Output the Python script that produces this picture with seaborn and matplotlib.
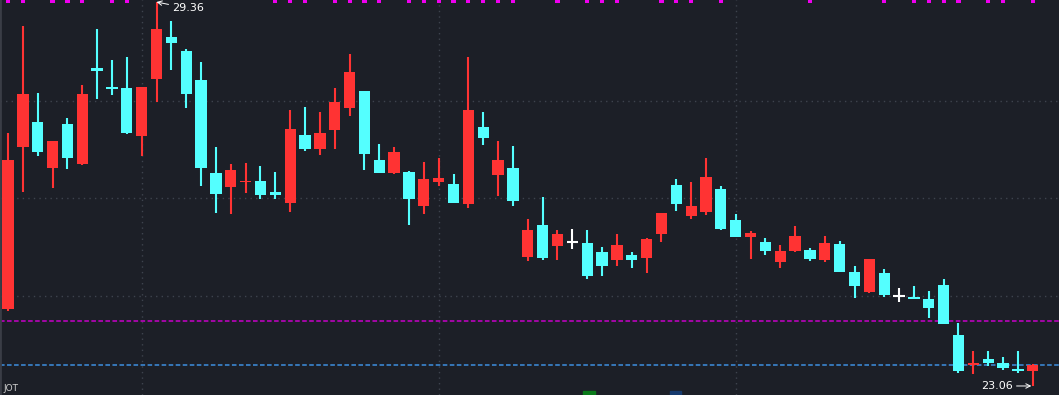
import numpy as np
import pandas as pd
import matplotlib
matplotlib.use("Agg")
import matplotlib.pyplot as plt
import matplotlib.transforms as mtransforms
from matplotlib.patches import Rectangle
import seaborn as sns

# ---------------- data ----------------
opens = [24.32, 26.98, 27.39, 26.64, 27.36, 26.70, 28.28, 27.97, 27.95, 27.16,
         28.10, 28.79, 28.56, 28.08, 26.55, 26.32, 26.40, 26.42, 26.24, 26.06,
         27.18, 26.95, 27.26, 27.62, 27.90, 26.77, 26.55, 26.57, 26.01, 26.41,
         26.37, 26.05, 27.31, 26.52, 26.64, 25.17, 25.70, 25.36, 25.42, 25.41,
         25.26, 25.13, 25.21, 25.16, 25.55, 26.36, 25.85, 25.91, 26.29, 25.78,
         25.50, 25.42, 25.09, 25.27, 25.29, 25.13, 25.39, 24.93, 24.60, 24.91,
         24.54, 24.52, 24.49, 24.72, 23.90, 23.40, 23.50, 23.44, 23.34, 23.31]
highs = [27.21, 28.97, 27.87, 27.08, 27.46, 28.00, 28.92, 28.41, 28.46, 27.97,
         29.36, 29.05, 28.59, 28.38, 26.98, 26.70, 26.72, 26.67, 26.57, 27.59,
         27.64, 27.56, 27.95, 28.51, 27.90, 27.03, 26.98, 26.59, 26.73, 26.80,
         26.54, 28.46, 27.56, 27.08, 27.00, 25.80, 26.16, 25.62, 25.64, 25.62,
         25.34, 25.55, 25.26, 25.49, 25.90, 26.46, 26.41, 26.80, 26.34, 25.88,
         25.60, 25.49, 25.37, 25.69, 25.32, 25.52, 25.44, 25.03, 25.14, 24.98,
         24.67, 24.70, 24.62, 24.82, 24.09, 23.63, 23.63, 23.54, 23.63, 23.42]
lows = [24.29, 26.24, 26.83, 26.31, 26.62, 26.69, 27.77, 27.83, 27.19, 26.83,
        27.72, 28.24, 27.62, 26.34, 25.90, 25.88, 26.23, 26.13, 26.13, 25.91,
        26.92, 26.85, 26.95, 27.49, 26.60, 26.55, 26.54, 25.70, 25.88, 26.34,
        26.06, 25.98, 27.01, 26.18, 26.01, 25.11, 25.13, 25.13, 25.31, 24.82,
        24.86, 25.03, 24.99, 24.91, 25.42, 25.93, 25.80, 25.87, 25.62, 25.50,
        25.14, 25.21, 24.99, 25.26, 25.11, 25.09, 24.93, 24.50, 24.59, 24.52,
        24.44, 24.49, 24.18, 24.08, 23.27, 23.26, 23.39, 23.32, 23.27, 23.06]
closes = [26.77, 27.85, 26.90, 27.08, 26.80, 27.85, 28.23, 27.93, 27.21, 27.97,
          28.92, 28.69, 27.85, 26.64, 26.21, 26.60, 26.42, 26.19, 26.19, 27.28,
          26.95, 27.21, 27.72, 28.21, 26.87, 26.55, 26.90, 26.13, 26.46, 26.47,
          26.06, 27.59, 27.13, 26.77, 26.09, 25.62, 25.16, 25.55, 25.42, 24.86,
          25.03, 25.37, 25.13, 25.47, 25.90, 26.05, 26.01, 26.49, 25.64, 25.50,
          25.57, 25.27, 25.27, 25.52, 25.14, 25.41, 24.93, 24.70, 25.14, 24.55,
          24.54, 24.49, 24.34, 24.08, 23.31, 23.44, 23.44, 23.36, 23.31, 23.40]

signal_days = [0, 1, 3, 4, 5, 7, 8, 18, 19, 20, 22, 23, 24, 25, 27, 28, 29, 30,
               31, 32, 33, 34, 37, 39, 40, 41, 44, 45, 46, 48, 54, 59, 61, 62,
               63, 64, 66, 67, 69]
month_breaks = [9, 29, 49]
grid_levels = [27.74, 26.14, 24.54]
avg_line = 24.12
last_price = 23.40
high_label = "29.36"
low_label = "23.06"
bottom_label = "JOT"

# ---------------- styling ----------------
BG = "#1c1f27"
UP = "#ff3333"
DOWN = "#54ffff"
FLAT = "#ffffff"
GRID = "#3e434e"

sns.set_theme(style="dark", rc={"axes.facecolor": BG, "figure.facecolor": BG})
plt.rcParams["font.family"] = ["DejaVu Sans"]

df = pd.DataFrame({"open": opens, "high": highs, "low": lows, "close": closes})
df["idx"] = np.arange(len(df))
df["color"] = np.where(df["close"] > df["open"], UP,
                       np.where(df["close"] < df["open"], DOWN, FLAT))

fig = plt.figure(figsize=(10.59, 3.95), dpi=100)
ax = fig.add_axes([0, 0, 1, 1])
ax.set_facecolor(BG)
ax.set_xlim(-0.54, 70.77)
ax.set_ylim(22.912, 29.393)

# grid
for g in grid_levels:
    ax.axhline(g, color=GRID, lw=1.0, ls=(0, (1, 3)), zorder=0)
for m in month_breaks:
    ax.axvline(m, color=GRID, lw=1.0, ls=(0, (1, 3)), zorder=0)

# reference lines
ax.axhline(avg_line, color="#c800c8", lw=1.1, ls=(0, (3, 1.6)), zorder=1)
ax.axhline(last_price, color="#3d8fe0", lw=1.1, ls=(0, (3, 1.6)), zorder=1)

# wicks
ax.vlines(df["idx"], df["low"], df["high"], colors=df["color"], lw=1.5, zorder=2)

# bodies
body = df[df["color"] != FLAT]
bottoms = np.minimum(body["open"], body["close"])
heights = np.maximum(np.abs(body["close"] - body["open"]), 0.03)
ax.bar(body["idx"], heights, bottom=bottoms, width=0.76, color=body["color"],
       linewidth=0, zorder=3)

# doji crosses
flat = df[df["color"] == FLAT]
ax.hlines(flat["close"], flat["idx"] - 0.38, flat["idx"] + 0.38,
          colors=FLAT, lw=1.5, zorder=3)

# top signal markers
trans = mtransforms.blended_transform_factory(ax.transData, ax.transAxes)
sig = pd.DataFrame({"idx": signal_days, "pos": 0.998})
sns.scatterplot(data=sig, x="idx", y="pos", marker="s", s=9, color="#ee00ee",
                edgecolor="none", transform=trans, ax=ax, zorder=4, clip_on=False,
                legend=False)

# annotations for extreme prices
hi_i = int(np.argmax(highs))
lo_i = int(np.argmin(lows))
ax.annotate(high_label, xy=(hi_i, highs[hi_i]), xytext=(11, -4.5),
            textcoords="offset points", ha="left", va="center", color="white",
            fontsize=8,
            arrowprops=dict(arrowstyle="->", color="white", lw=0.7,
                            shrinkA=0, shrinkB=0))
ax.annotate(low_label, xy=(lo_i, lows[lo_i]), xytext=(-14, 0),
            textcoords="offset points", ha="right", va="center", color="white",
            fontsize=8,
            arrowprops=dict(arrowstyle="->", color="white", lw=0.7,
                            shrinkA=0, shrinkB=1))

# bottom label (kept fully inside) and icons
ax.text(0.003, 0.004, bottom_label, transform=ax.transAxes, color="#d0d0d0",
        fontsize=6.5, ha="left", va="bottom")
ax.add_patch(Rectangle((0.5505, 0.0), 0.011, 0.011, transform=ax.transAxes,
                       color="#0a7a1a", zorder=5))
ax.add_patch(Rectangle((0.6325, 0.0), 0.011, 0.011, transform=ax.transAxes,
                       color="#163a6e", zorder=5))

ax.set_xticks([])
ax.set_yticks([])
ax.set_xlabel("")
ax.set_ylabel("")
for side in ["top", "right", "bottom"]:
    ax.spines[side].set_visible(False)
ax.spines["left"].set_color("#3a3d46")
ax.spines["left"].set_linewidth(2)

fig.savefig("out.png", dpi=100, facecolor=BG)
